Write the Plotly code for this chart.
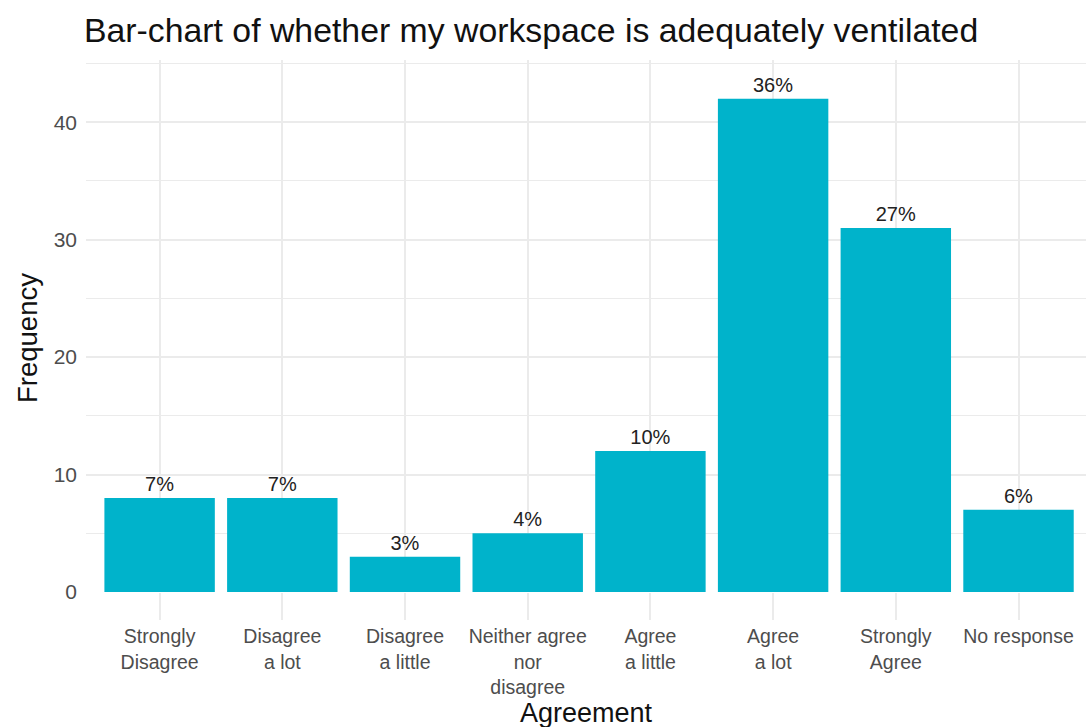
import plotly.graph_objects as go

# 数据
categories = [
    "Strongly<br>Disagree",
    "Disagree<br>a lot",
    "Disagree<br>a little",
    "Neither agree<br>nor<br>disagree",
    "Agree<br>a little",
    "Agree<br>a lot",
    "Strongly<br>Agree",
    "No response",
]
frequency = [8, 8, 3, 5, 12, 42, 31, 7]
percent_labels = ["7%", "7%", "3%", "4%", "10%", "36%", "27%", "6%"]

y_ticks = [0, 10, 20, 30, 40]

GRID = "#EBEBEB"
FONT = "Liberation Sans, Arial, sans-serif"

fig = go.Figure(
    go.Bar(
        x=list(range(len(categories))),
        y=frequency,
        text=percent_labels,
        textposition="outside",
        textfont=dict(size=20, color="#222222", family=FONT),
        cliponaxis=False,
        marker=dict(color="#00B3CB", line=dict(width=0)),
        width=0.9,
    )
)

fig.update_layout(
    width=1086,
    height=727,
    paper_bgcolor="white",
    plot_bgcolor="white",
    margin=dict(l=86, r=0, t=60, b=135),
    showlegend=False,
    font=dict(family=FONT),
    title=dict(
        text="Bar-chart of whether my workspace is adequately ventilated",
        font=dict(size=33.8, color="#111111", family=FONT),
        x=84 / 1086,
        xanchor="left",
        xref="container",
        y=1 - 30 / 727,
        yanchor="middle",
    ),
    xaxis=dict(
        range=[-0.6, 7.55],
        tickmode="array",
        tickvals=list(range(len(categories))),
        ticktext=categories,
        tickfont=dict(size=19.5, color="#4D4D4D"),
        ticks="outside",
        ticklen=27,
        tickcolor=GRID,
        tickwidth=1.5,
        showgrid=True,
        gridcolor=GRID,
        gridwidth=1.5,
        zeroline=False,
        showline=False,
    ),
    yaxis=dict(
        range=[0, 45.3],
        tickvals=y_ticks,
        tickfont=dict(size=21, color="#4D4D4D"),
        ticks="",
        ticklabelstandoff=8,
        showgrid=True,
        gridcolor=GRID,
        gridwidth=1.5,
        minor=dict(dtick=5, tick0=5, showgrid=True, gridcolor=GRID, gridwidth=0.8),
        zeroline=False,
        showline=False,
    ),
    annotations=[
        dict(
            text="Agreement",
            xref="paper", yref="paper",
            x=0.5, y=(592 - 713) / 532,
            xanchor="center", yanchor="middle",
            showarrow=False,
            font=dict(size=27, color="#111111"),
        ),
        dict(
            text="Frequency",
            xref="paper", yref="paper",
            x=(28 - 86) / 1000, y=(592 - 338) / 532,
            xanchor="center", yanchor="middle",
            textangle=-90,
            showarrow=False,
            font=dict(size=27.5, color="#111111"),
        ),
    ],
)

# 去掉页面 body 默认的 8px 边距，并隐藏工具栏
fig.write_html(
    "out.html",
    config={"displayModeBar": False},
    post_script="document.body.style.margin='0';",
)
